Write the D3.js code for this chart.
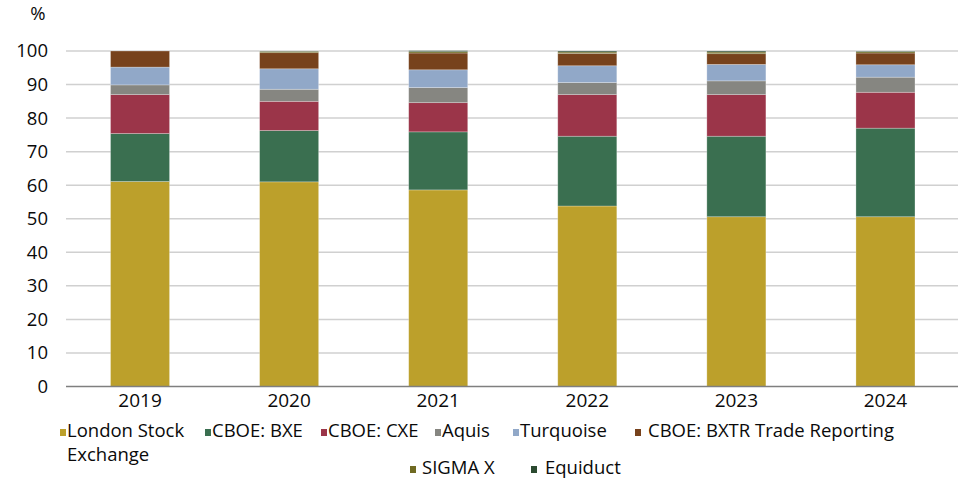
<!DOCTYPE html>
<html>
<head>
<meta charset="utf-8">
<script src="https://cdn.jsdelivr.net/npm/d3@7"></script>
<style>
  html, body { margin: 0; padding: 0; background: #fff; }
  svg { display: block; font-family: "Open Sans", "Noto Sans", sans-serif; }
</style>
</head>
<body>
<svg id="chart" width="968" height="481"></svg>
<script>
const years = ["2019", "2020", "2021", "2022", "2023", "2024"];
const seriesNames = ["London Stock Exchange", "CBOE: BXE", "CBOE: CXE", "Aquis", "Turquoise", "CBOE: BXTR Trade Reporting", "SIGMA X", "Equiduct"];
const lse      = [61.1, 61.0, 58.6, 53.8, 50.6, 50.6];
const bxe      = [14.3, 15.3, 17.3, 20.8, 24.0, 26.4];
const cxe      = [11.6, 8.7, 8.7, 12.4, 12.4, 10.7];
const aquis    = [2.9, 3.6, 4.5, 3.6, 4.1, 4.5];
const turq     = [5.3, 6.1, 5.3, 5.0, 4.9, 3.7];
const bxtr     = [4.8, 4.8, 5.0, 3.7, 3.2, 3.5];
const sigmax   = [0.0, 0.4, 0.4, 0.4, 0.5, 0.4];
const equiduct = [0.0, 0.1, 0.3, 0.3, 0.3, 0.2];
const yTicks = [0, 10, 20, 30, 40, 50, 60, 70, 80, 90, 100];
const colors = ["#bca02b", "#3a6f50", "#9b3549", "#868681", "#91a8c8", "#77421c", "#6f6a22", "#2b4a30"];

const seriesValues = [lse, bxe, cxe, aquis, turq, bxtr, sigmax, equiduct];
const table = years.map((y, i) => {
  const row = { year: y };
  seriesNames.forEach((s, k) => row[s] = seriesValues[k][i]);
  return row;
});
const stacked = d3.stack().keys(seriesNames)(table);

const svg = d3.select("#chart");
const x = d3.scaleBand().domain(years).range([65.5, 960]).paddingInner(0.604).paddingOuter(0.302);
const y = d3.scaleLinear().domain([0, 100]).range([386.5, 51]);

// gridlines
svg.append("g").selectAll("line").data(yTicks.filter(t => t > 0)).join("line")
  .attr("x1", 66).attr("x2", 958)
  .attr("y1", d => y(d)).attr("y2", d => y(d))
  .attr("stroke", "#d0d0d0").attr("stroke-width", 1.5);

// y tick labels
const yAxis = d3.axisLeft(y).tickValues(yTicks).tickSize(0).tickPadding(0);
const gy = svg.append("g").attr("transform", "translate(48,0)").call(yAxis);
gy.select(".domain").remove();
gy.selectAll("text").attr("font-size", 18.5).attr("fill", "#0a0a0a")
  .attr("font-family", "'Open Sans', sans-serif");

// bars
svg.append("g").selectAll("g").data(stacked).join("g")
  .attr("fill", (d, i) => colors[i])
  .selectAll("rect").data(d => d).join("rect")
  .attr("x", d => x(d.data.year))
  .attr("width", x.bandwidth())
  .attr("y", d => y(d[1]))
  .attr("height", d => Math.max(0, y(d[0]) - y(d[1])))
  .attr("stroke", "rgba(255,255,255,0.35)").attr("stroke-width", 0.75);

// baseline
svg.append("line").attr("x1", 66).attr("x2", 958)
  .attr("y1", y(0)).attr("y2", y(0))
  .attr("stroke", "#7f7f7f").attr("stroke-width", 1.5);

// x labels
const xAxis = d3.axisBottom(x).tickSize(0).tickPadding(0);
const gx = svg.append("g").attr("transform", `translate(0,${y(0) + 7})`).call(xAxis);
gx.select(".domain").remove();
gx.selectAll("text").attr("font-size", 19).attr("fill", "#0a0a0a")
  .attr("font-family", "'Open Sans', sans-serif");

// % label
svg.append("text").attr("x", 38).attr("y", 20).attr("text-anchor", "middle")
  .attr("font-size", 18.5).attr("fill", "#0a0a0a").text("%");

// legend
const legendItems = [
  { i: 0, mx: 60, tx: 67, ty: 437, lines: ["London Stock", "Exchange"] },
  { i: 1, mx: 205, tx: 212, ty: 437, lines: ["CBOE: BXE"] },
  { i: 2, mx: 321, tx: 328, ty: 437, lines: ["CBOE: CXE"] },
  { i: 3, mx: 435, tx: 442, ty: 437, lines: ["Aquis"] },
  { i: 4, mx: 513, tx: 520, ty: 437, lines: ["Turquoise"] },
  { i: 5, mx: 635, tx: 648, ty: 437, lines: ["CBOE: BXTR Trade Reporting"] },
  { i: 6, mx: 410, tx: 422, ty: 474, lines: ["SIGMA X"] },
  { i: 7, mx: 531, tx: 545, ty: 474, lines: ["Equiduct"] }
];
const lg = svg.append("g");
legendItems.forEach(it => {
  lg.append("rect").attr("x", it.mx).attr("y", it.ty - 8).attr("width", 6).attr("height", 7)
    .attr("fill", colors[it.i]);
  const t = lg.append("text").attr("x", it.tx).attr("y", it.ty)
    .attr("font-size", 18.5).attr("fill", "#0a0a0a");
  it.lines.forEach((l, k) => {
    t.append("tspan").attr("x", it.tx).attr("dy", k === 0 ? 0 : 24).text(l);
  });
});
</script>
</body>
</html>
